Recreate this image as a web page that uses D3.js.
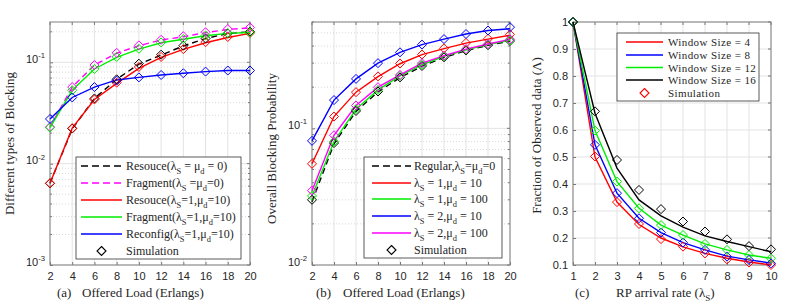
<!DOCTYPE html>
<html>
  <head>
    <style type="text/css">
      body { margin:0; background:#fff; }
      .tick text { font-family:"Liberation Sans",Arial,sans-serif; font-size:11px; fill:#262626; }
      text.serif, text.serif tspan { font-family:"Liberation Serif","Times New Roman",serif !important; fill:#262626; }
    </style>
  </head>
  <body>
    <div id="canvas"></div>
    <script src="https://d3js.org/d3.v7.min.js"></script>
    <script type="text/javascript">

    // ---- data ----
    var loads = [2, 4, 6, 8, 10, 12, 14, 16, 18, 20];

    // panel (a)
    var resource0  = [0.0064, 0.022, 0.044, 0.068, 0.096, 0.118, 0.145, 0.172, 0.192, 0.200];
    var fragment0  = [0.023, 0.057, 0.094, 0.123, 0.146, 0.166, 0.179, 0.196, 0.211, 0.219];
    var resource1  = [0.0064, 0.0224, 0.043, 0.062, 0.087, 0.112, 0.134, 0.156, 0.176, 0.193];
    var fragment1  = [0.0227, 0.053, 0.086, 0.112, 0.135, 0.156, 0.169, 0.183, 0.193, 0.197];
    var reconfig1  = [0.0276, 0.045, 0.057, 0.067, 0.071, 0.075, 0.078, 0.081, 0.083, 0.083];
    var simResource0 = [0.0064, 0.0222, 0.044, 0.068, 0.097, 0.119, 0.146, 0.172, 0.193, 0.201];
    var simFragment0 = [0.023, 0.057, 0.094, 0.124, 0.147, 0.167, 0.181, 0.198, 0.213, 0.221];
    var simResource1 = [0.0064, 0.0224, 0.043, 0.063, 0.090, 0.113, 0.135, 0.158, 0.178, 0.195];
    var simFragment1 = [0.0227, 0.053, 0.086, 0.113, 0.136, 0.157, 0.170, 0.184, 0.194, 0.198];
    var simReconfig1 = [0.0276, 0.045, 0.057, 0.066, 0.071, 0.075, 0.078, 0.081, 0.083, 0.083];

    // panel (b)
    var regular   = [0.029, 0.077, 0.133, 0.185, 0.235, 0.285, 0.330, 0.370, 0.405, 0.435];
    var l1m10     = [0.055, 0.122, 0.184, 0.239, 0.297, 0.346, 0.383, 0.420, 0.450, 0.480];
    var l1m100    = [0.032, 0.080, 0.138, 0.191, 0.242, 0.292, 0.336, 0.376, 0.410, 0.440];
    var l2m10     = [0.081, 0.161, 0.230, 0.300, 0.360, 0.410, 0.450, 0.490, 0.520, 0.535];
    var l2m100    = [0.035, 0.089, 0.147, 0.200, 0.246, 0.300, 0.340, 0.380, 0.414, 0.448];
    var simRegular = [0.030, 0.078, 0.134, 0.186, 0.236, 0.286, 0.331, 0.371, 0.406, 0.436];
    var simL1m10   = [0.055, 0.122, 0.184, 0.240, 0.298, 0.347, 0.385, 0.422, 0.452, 0.487];
    var simL1m100  = [0.032, 0.080, 0.138, 0.191, 0.242, 0.292, 0.336, 0.376, 0.410, 0.440];
    var simL2m10   = [0.081, 0.161, 0.230, 0.300, 0.360, 0.410, 0.450, 0.490, 0.520, 0.550];
    var simL2m100  = [0.035, 0.089, 0.147, 0.200, 0.246, 0.300, 0.340, 0.380, 0.414, 0.448];

    // panel (c)
    var rates = [1, 2, 3, 4, 5, 6, 7, 8, 9, 10];
    var win4  = [1, 0.500, 0.333, 0.250, 0.200, 0.167, 0.143, 0.125, 0.111, 0.100];
    var win8  = [1, 0.545, 0.366, 0.273, 0.220, 0.183, 0.156, 0.133, 0.119, 0.107];
    var win12 = [1, 0.598, 0.409, 0.310, 0.248, 0.211, 0.178, 0.156, 0.137, 0.125];
    var win16 = [1, 0.662, 0.459, 0.341, 0.282, 0.240, 0.208, 0.187, 0.168, 0.149];
    var simWin4  = [1, 0.502, 0.333, 0.252, 0.196, 0.168, 0.143, 0.121, 0.109, 0.100];
    var simWin8  = [1, 0.545, 0.366, 0.273, 0.220, 0.183, 0.156, 0.131, 0.119, 0.106];
    var simWin12 = [1, 0.598, 0.409, 0.310, 0.248, 0.211, 0.178, 0.156, 0.137, 0.125];
    var simWin16 = [1, 0.669, 0.489, 0.378, 0.307, 0.261, 0.224, 0.195, 0.170, 0.158];

    var SERIF = '"Liberation Serif","Times New Roman",serif';

    var svg = d3.select('#canvas').append('svg')
      .attr('width', 789).attr('height', 305);

    // text with _{sub} and ^{sup}
    function rich(sel, str, fs) {
      var parts = str.split(/([_^]\{[^}]*\})/);
      var shift = 0;
      parts.forEach(function (p) {
        if (!p) return;
        var t = sel.append('tspan');
        if (p[0] === '_' || p[0] === '^') {
          var d = p[0] === '_' ? fs * 0.3 : -fs * 0.42;
          t.text(p.slice(2, -1)).attr('font-size', fs * 0.7).attr('dy', d - shift);
          shift = d;
        } else {
          t.text(p).attr('dy', -shift);
          shift = 0;
        }
      });
    }

    function serifText(g, fs) {
      return g.append('text').attr('class', 'serif').attr('font-family', SERIF)
        .style('font-family', SERIF).attr('font-size', fs);
    }

    var diamond = 'M0,-4.5L4.5,0L0,4.5L-4.5,0Z';

    function drawPanel(p) {
      var g = svg.append('g');
      var x = d3.scaleLinear().domain(p.xDomain).range([p.left, p.right]);
      var y = (p.log ? d3.scaleLog() : d3.scaleLinear()).domain(p.yDomain).range([p.bottom, p.top]);

      // grid
      var grid = g.append('g');
      p.xTicks.forEach(function (v) {
        grid.append('line').attr('x1', x(v)).attr('x2', x(v)).attr('y1', p.top).attr('y2', p.bottom)
          .attr('stroke', '#e3e3e3').attr('stroke-width', 1);
      });
      p.yTicks.forEach(function (v) {
        grid.append('line').attr('x1', p.left).attr('x2', p.right).attr('y1', y(v)).attr('y2', y(v))
          .attr('stroke', '#e3e3e3').attr('stroke-width', 1);
      });
      if (p.log) {
        y.ticks().filter(function (v) { return p.yTicks.indexOf(v) < 0 && v <= p.yDomain[1]; })
          .forEach(function (v) {
            grid.append('line').attr('x1', p.left).attr('x2', p.right).attr('y1', y(v)).attr('y2', y(v))
              .attr('stroke', '#cfcfcf').attr('stroke-width', 0.8).attr('stroke-dasharray', '1,2');
            g.append('line').attr('x1', p.left).attr('x2', p.left + 2).attr('y1', y(v)).attr('y2', y(v)).attr('stroke', '#777');
            g.append('line').attr('x1', p.right).attr('x2', p.right - 2).attr('y1', y(v)).attr('y2', y(v)).attr('stroke', '#777');
          });
      }

      // axes
      g.append('g').attr('transform', 'translate(0,' + p.bottom + ')')
        .call(d3.axisBottom(x).tickValues(p.xTicks).tickSizeInner(-3).tickSizeOuter(0).tickPadding(7));
      var ya = g.append('g').attr('transform', 'translate(' + p.left + ',0)')
        .call(d3.axisLeft(y).tickValues(p.yTicks).tickSizeInner(-3).tickSizeOuter(0).tickPadding(5)
          .tickFormat(p.log ? function () { return ''; } : d3.format('.1f')));
      g.selectAll('.domain').remove();
      g.selectAll('.tick line').attr('stroke', '#777');
      if (p.yFmt) ya.selectAll('.tick text').text(p.yFmt);
      if (p.log) {
        ya.selectAll('.tick text').each(function (v) {
          var t = d3.select(this);
          t.text('');
          rich(t, '10^{' + Math.round(Math.log10(v)) + '}', 11);
        });
      }
      // top / right ticks
      p.xTicks.forEach(function (v) {
        g.append('line').attr('x1', x(v)).attr('x2', x(v)).attr('y1', p.top).attr('y2', p.top + 3).attr('stroke', '#777');
      });
      p.yTicks.forEach(function (v) {
        g.append('line').attr('x1', p.right).attr('x2', p.right - 3).attr('y1', y(v)).attr('y2', y(v)).attr('stroke', '#777');
      });
      g.append('rect').attr('x', p.left).attr('y', p.top).attr('width', p.right - p.left)
        .attr('height', p.bottom - p.top).attr('fill', 'none').attr('stroke', '#808080').attr('stroke-width', 1);

      // series
      var line = d3.line().x(function (d) { return x(d[0]); }).y(function (d) { return y(d[1]); });
      p.series.forEach(function (s) {
        var pts = p.xs.map(function (v, i) { return [v, s.values[i]]; });
        g.append('path').attr('d', line(pts)).attr('fill', 'none').attr('stroke', s.color)
          .attr('stroke-width', 1.4).attr('stroke-dasharray', s.dash ? '6,4' : null);
      });
      p.series.forEach(function (s) {
        g.selectAll(null).data(p.xs.map(function (v, i) { return [v, s.sim[i]]; }))
          .enter().append('path').attr('d', diamond)
          .attr('transform', function (d) { return 'translate(' + x(d[0]) + ',' + y(d[1]) + ')'; })
          .attr('fill', 'none').attr('stroke', s.color).attr('stroke-width', 1);
      });

      // legend
      var L = p.legend;
      g.append('rect').attr('x', L.x0).attr('y', L.y0).attr('width', L.x1 - L.x0).attr('height', L.y1 - L.y0)
        .attr('fill', '#fff').attr('stroke', '#333').attr('stroke-width', 0.8);
      p.series.forEach(function (s, i) {
        var yy = L.rows[i];
        g.append('line').attr('x1', L.lx0).attr('x2', L.lx1).attr('y1', yy).attr('y2', yy)
          .attr('stroke', s.color).attr('stroke-width', 1.4).attr('stroke-dasharray', s.dash ? '7,4' : null);
        var t = serifText(g, L.fs).attr('x', L.tx).attr('y', yy + 4).attr('letter-spacing', L.ls || 0);
        rich(t, s.label, L.fs);
      });
      var ys = L.rows[p.series.length];
      g.append('path').attr('d', diamond).attr('transform', 'translate(' + ((L.lx0 + L.lx1) / 2) + ',' + ys + ')')
        .attr('fill', 'none').attr('stroke', L.simColor).attr('stroke-width', 1.1);
      serifText(g, L.fs).attr('x', L.tx).attr('y', ys + 4).attr('letter-spacing', L.ls || 0).text('Simulation');

      // labels
      var yl = serifText(g, 13).attr('text-anchor', 'middle')
        .attr('transform', 'translate(' + p.yLabelX + ',' + ((p.top + p.bottom) / 2 + p.yLabelDy) + ') rotate(-90)');
      rich(yl, p.yLabel, 13);
      serifText(g, 13).attr('x', p.capX).attr('y', 297).text(p.cap);
      var ct = serifText(g, 13).attr('x', p.capX2).attr('y', 297);
      rich(ct, p.xLabel, 13);
    }

    drawPanel({
      left: 50, right: 250, top: 22, bottom: 265, log: true,
      xDomain: [2, 20], yDomain: [0.001, 0.25], xs: loads,
      xTicks: loads, yTicks: [0.001, 0.01, 0.1],
      series: [
        { values: resource0, sim: simResource0, color: '#000', dash: true, label: 'Resouce(\u03bb_{S} = \u03bc_{d} = 0)' },
        { values: fragment0, sim: simFragment0, color: '#ff00ff', dash: true, label: 'Fragment(\u03bb_{S} =\u03bc_{d}=0)' },
        { values: resource1, sim: simResource1, color: '#ff0000', label: 'Resouce(\u03bb_{S}=1,\u03bc_{d}=10)' },
        { values: fragment1, sim: simFragment1, color: '#00ee00', label: 'Fragment(\u03bb_{S}=1,\u03bc_{d}=10)' },
        { values: reconfig1, sim: simReconfig1, color: '#0000ff', label: 'Reconfig(\u03bb_{S}=1,\u03bc_{d}=10)' }
      ],
      legend: { x0: 76, x1: 241, y0: 157, y1: 259, lx0: 81, lx1: 122, tx: 126, fs: 12,
        rows: [166, 183, 200, 217, 234, 251], simColor: '#000' },
      yLabel: 'Different types of Blocking', yLabelX: 14, yLabelDy: 0,
      cap: '(a)', capX: 57, capX2: 82, xLabel: 'Offered Load (Erlangs)'
    });

    drawPanel({
      left: 312, right: 510, top: 22, bottom: 265, log: true,
      xDomain: [2, 20], yDomain: [0.01, 0.6], xs: loads,
      xTicks: loads, yTicks: [0.01, 0.1],
      series: [
        { values: regular, sim: simRegular, color: '#000', dash: true, label: 'Regular,\u03bb_{S}=\u03bc_{d}=0' },
        { values: l1m10, sim: simL1m10, color: '#ff0000', label: '\u03bb_{S} = 1,\u03bc_{d} = 10' },
        { values: l1m100, sim: simL1m100, color: '#00ee00', label: '\u03bb_{S} = 1,\u03bc_{d} = 100' },
        { values: l2m10, sim: simL2m10, color: '#0000ff', label: '\u03bb_{S} = 2,\u03bc_{d} = 10' },
        { values: l2m100, sim: simL2m100, color: '#ff00ff', label: '\u03bb_{S} = 2,\u03bc_{d} = 100' }
      ],
      legend: { x0: 364, x1: 502, y0: 157, y1: 258, lx0: 372, lx1: 411, tx: 414, fs: 12,
        rows: [166, 183, 199, 216, 233, 250], simColor: '#000' },
      yLabel: 'Overall Blocking Probability', yLabelX: 276, yLabelDy: 5,
      cap: '(b)', capX: 316, capX2: 343, xLabel: 'Offered Load (Erlangs)'
    });

    drawPanel({
      left: 573, right: 771, top: 22, bottom: 265, log: false,
      xDomain: [1, 10], yDomain: [0.1, 1], xs: rates,
      xTicks: rates, yTicks: [0.1, 0.2, 0.3, 0.4, 0.5, 0.6, 0.7, 0.8, 0.9, 1],
      yFmt: function (v) { return v === 1 ? '1' : d3.format('.1f')(v); },
      series: [
        { values: win4, sim: simWin4, color: '#ff0000', label: 'Window Size = 4' },
        { values: win8, sim: simWin8, color: '#0000ff', label: 'Window Size = 8' },
        { values: win12, sim: simWin12, color: '#00ee00', label: 'Window Size = 12' },
        { values: win16, sim: simWin16, color: '#000', label: 'Window Size = 16' }
      ],
      legend: { x0: 617, x1: 759, y0: 33, y1: 101, lx0: 626, lx1: 663, tx: 668, fs: 11, ls: 0.4,
        rows: [42, 55, 67.5, 80, 93], simColor: '#ff0000' },
      yLabel: 'Fraction of Observed data (\u039b)', yLabelX: 541, yLabelDy: -8,
      cap: '(c)', capX: 575, capX2: 616, xLabel: 'RP arrival rate (\u03bb_{S})'
    });

    </script>
  </body>
</html>
